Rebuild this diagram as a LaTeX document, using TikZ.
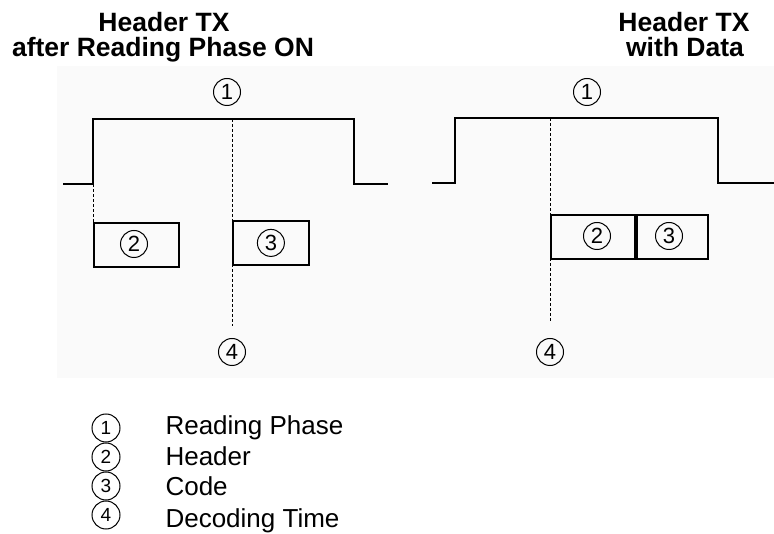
\documentclass[tikz,border=0pt]{standalone}
\usepackage{fontspec}
\setmainfont{Liberation Sans}
\usetikzlibrary{positioning}

\tikzset{
  num/.style={circle, draw, line width=1pt, inner sep=0pt, minimum size=27pt, font=\fontsize{22}{22}\selectfont},
  keynum/.style={num, minimum size=28pt, font=\fontsize{19}{19}\selectfont},
  field/.style={draw, line width=1.8pt, inner sep=0pt, minimum height=44pt},
  signal/.style={line width=1.8pt, line join=miter},
  marker/.style={line width=1pt, dash pattern=on 3pt off 2pt},
  headline/.style={anchor=base, font=\bfseries\fontsize{26.5}{26.5}\selectfont},
  legendtext/.style={anchor=base west, font=\fontsize{26}{26}\selectfont}
}

\begin{document}
\begin{tikzpicture}[x=1pt, y=-1pt]
\useasboundingbox (0,0) rectangle (774,534);
% faint plot area
\fill[black!2] (57,66) rectangle (774,378);

% titles
\node[headline] (ttlA) at (164,32) {Header TX};
\node[headline] (ttlB) at (163,57) {after Reading Phase ON};
\node[headline] (ttlC) at (684,32) {Header TX};
\node[headline] (ttlD) at (685,57) {with Data};

% left signal
\coordinate (la) at (63,184);
\coordinate (lb) at (93,184);
\coordinate (lc) at (93,119);
\coordinate (ld) at (354,119);
\coordinate (le) at (354,184);
\coordinate (lf) at (388,184);
\draw[signal] (la) -- (lb) -- (lc) -- (ld) -- (le) -- (lf);
\coordinate (lm) at (232,119);
\node[num] (lphase) at (227,92) {1};

\node[field, minimum width=85pt, anchor=north west] (lhdr) at (93,222) {};
\node[num] at (134,244) {2};
\node[field, minimum width=76pt, anchor=north west] (lcode) at (232,220) {};
\node[num] at (lcode.center) {3};
\coordinate (lend) at (232,326);
\node[num] (ldec) at (232,352) {4};
\draw[marker] (lb) -- (lhdr.north west);
\draw[marker] (lm) -- (lend);

% right signal
\coordinate (ra) at (432,183);
\coordinate (rb) at (455,183);
\coordinate (rc) at (455,118);
\coordinate (rd) at (718,118);
\coordinate (re) at (718,183);
\coordinate (rf) at (774,183);
\draw[signal] (ra) -- (rb) -- (rc) -- (rd) -- (re) -- (rf);
\coordinate (rm) at (550,118);
\node[num] (rphase) at (587,92) {1};

\node[field, minimum width=84pt, anchor=north west] (rhdr) at (550,214) {};
\node[num] at (597,236) {2};
\node[field, minimum width=71pt, anchor=north west] (rcode) at (rhdr.north east) {};
\node[num] at (669,236) {3};
\coordinate (rend) at (550,322);
\node[num] (rdec) at (550,352) {4};
\draw[marker] (rm) -- (rend);

% legend
\node[keynum] (k1) at (106,428) {1};
\node[keynum] (k2) at (106,457) {2};
\node[keynum] (k3) at (106,486) {3};
\node[keynum] (k4) at (106,515) {4};
\node[legendtext] at (162,435) {Reading Phase};
\node[legendtext] at (162,466) {Header};
\node[legendtext] at (162,496) {Code};
\node[legendtext] at (162,527) {Decoding Time};
\end{tikzpicture}
\end{document}
